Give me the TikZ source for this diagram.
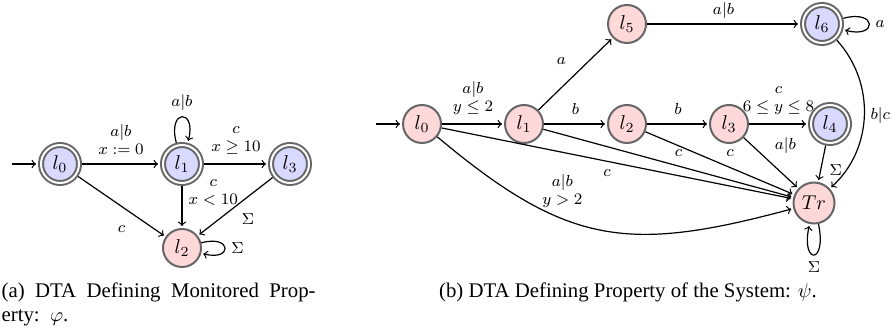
\documentclass[tikz,border=0pt]{standalone}
\usepackage{amsmath, tikz}
\usepackage{fontspec}
\newfontfamily\capfont{Liberation Serif}
\usetikzlibrary{automata, positioning, arrows}

\begin{document}
\begin{tikzpicture}
[->,shorten >=1pt, auto,on grid,semithick,inner sep=4.5pt,font=\fontsize{8.5}{9}\selectfont,
 every state/.style={draw=black!60, line width=1pt, minimum size=19pt, fill=red!15, inner sep=2pt, font=\normalsize},
 good/.style={fill=blue!15},
 accepting/.style={double, double distance=1pt, outer sep=1.5pt},
 initial text=, initial distance=13pt,
 every loop/.style={min distance=4mm},
 caption/.style={font=\capfont\fontsize{10.4}{12}\selectfont, inner sep=0pt}]

\useasboundingbox (-30pt,-83.5pt) rectangle (416.5pt,82pt);

% monitored property (phi)
\node[state, good, accepting, initial] (phi0) {$l_0$};
\node[state, good, accepting, right=61pt of phi0] (phi1) {$l_1$};
\node[state, good, accepting, right=54pt of phi1] (phi3) {$l_3$};
\node[state, below=42pt of phi1] (phi2) {$l_2$};

\path[->]
	(phi0) edge node [align=center] {$a|b$\\$x:=0$} (phi1)
		edge [swap] node [pos=.65] {$c$} (phi2)
	(phi1) edge [loop above] node [inner sep=3pt] {$a|b$} ()
		edge node [align=center] {$c$\\$x\geq 10$} (phi3)
		edge node [pos=.15, inner sep=3pt, align=center] {$c$\\$x<10$} (phi2)
	(phi3) edge node [inner sep=3pt] {$\Sigma$} (phi2)
	(phi2) edge [loop right] node [inner sep=3pt] {$\Sigma$} ();

% property of the system (psi)
\node[state, initial] (psi0) at (181pt,20pt) {$l_0$};
\node[state, right=51pt of psi0] (psi1) {$l_1$};
\node[state, right=51.5pt of psi1] (psi2) {$l_2$};
\node[state, right=51pt of psi2] (psi3) {$l_3$};
\node[state, good, accepting, right=50.5pt of psi3] (psi4) {$l_4$};
\node[state, above=50pt of psi2] (psi5) {$l_5$};
\node[state, good, accepting, right=97.5pt of psi5] (psi6) {$l_6$};
\node[state, minimum size=20.5pt, below left=39.5pt and 8pt of psi4] (psiTr) {$Tr$};

\path[->]
	(psi0) edge node [align=center] {$a|b$\\$y\leq 2$} (psi1)
		edge [swap] node [inner sep=3pt] {$c$} (psiTr)
		edge [out=-40, in=195, looseness=1.2] node [pos=.37, above=1pt, align=center] {$a|b$\\$y>2$} (psiTr)
	(psi1) edge node {$a$} (psi5)
		edge node {$b$} (psi2)
		edge node [inner sep=3pt] {$c$} (psiTr)
	(psi2) edge node {$b$} (psi3)
		edge node [inner sep=3pt] {$c$} (psiTr)
	(psi3) edge node [align=center] {$c$\\$6\leq y\leq 8$} (psi4)
		edge node [pos=.45, inner sep=3pt] {$a|b$} (psiTr)
	(psi5) edge node [inner sep=2.5pt] {$a|b$} (psi6)
	(psi6) edge [loop right] node [inner sep=3pt] {$a$} ()
		edge [bend left=45] node [inner sep=3pt] {$b|c$} (psiTr)
	(psi4) edge node [pos=.35, inner sep=3pt] {$\Sigma$} (psiTr)
	(psiTr) edge [out=-78, in=-102, looseness=12] node [below, inner sep=3pt] {$\Sigma$} (psiTr);

% captions
\node[caption, text width=157pt, align=left, anchor=north west] (capa) at (-29.5pt,-59pt) {(a)\hfill DTA\hfill Defining\hfill Monitored\hfill Prop-\\erty: $\varphi$.};
\node[caption] (capb) at (284pt,-64pt) {(b) DTA Defining Property of the System: $\psi$.};
\end{tikzpicture}
\end{document}
